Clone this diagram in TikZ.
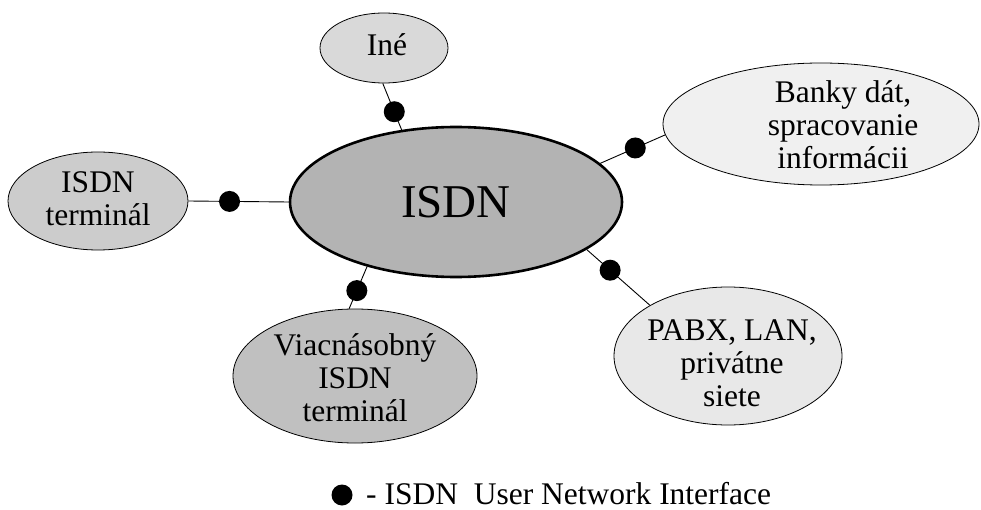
\documentclass[tikz,border=0pt]{standalone}
\usepackage{fontspec}
\setmainfont{Liberation Serif}
\usetikzlibrary{shapes.geometric}
\definecolor{cisdn}{RGB}{179,179,179}
\definecolor{cterm}{RGB}{204,204,204}
\definecolor{cviac}{RGB}{192,192,192}
\definecolor{cine}{RGB}{217,217,217}
\definecolor{cbanky}{RGB}{240,240,240}
\definecolor{cpabx}{RGB}{232,232,232}
\tikzset{
  ell/.style={ellipse, draw=black, line width=0.8pt, inner sep=0pt},
  lbl/.style={align=center, inner sep=0pt, font=\fontsize{31.5}{33}\selectfont},
  uni/.style={circle, fill=black, inner sep=0pt, minimum size=21pt},
  conn/.style={line width=0.9pt}
}
\begin{document}
\begin{tikzpicture}[x=1pt, y=-1pt]
\useasboundingbox (0,0) rectangle (981,510);
% ellipses
\node[ell, fill=cisdn, line width=2.6pt, minimum width=332pt, minimum height=150pt] (isdn) at (456,202) {};
\node[ell, fill=cine, minimum width=128pt, minimum height=70pt] (ine) at (384,48) {};
\node[ell, fill=cterm, minimum width=180pt, minimum height=98pt] (term) at (98,201) {};
\node[ell, fill=cviac, minimum width=244pt, minimum height=134pt] (viac) at (355,376) {};
\node[ell, fill=cbanky, minimum width=316pt, minimum height=122pt] (banky) at (821,124) {};
\node[ell, fill=cpabx, minimum width=228pt, minimum height=138pt] (pabx) at (728,356) {};
% texts
\node[lbl, font=\fontsize{47}{50}\selectfont] (tisdn) at (456,202) {ISDN};
\node[lbl] (tine) at (387,45) {Iné};
\node[lbl] (tterm) at (98,198.5) {ISDN\\terminál};
\node[lbl] (tviac) at (355,378) {Viacnásobný\\ISDN\\terminál};
\node[lbl] (tbanky) at (843,125) {Banky dát,\\spracovanie\\informácii};
\node[lbl] (tpabx) at (732,363) {PABX, LAN,\\privátne\\siete};
% connectors with interface dots
\draw[conn] (isdn.180) -- node[uni, pos=0.59] (d1) {} (term.0);
\draw[conn] (isdn.127.7) -- node[uni, pos=0.39] (d2) {} (ine.268);
\draw[conn] (isdn.15.2) -- node[uni, pos=0.54] (d3) {} (banky.184.2);
\draw[conn] (isdn.216.2) -- node[uni, pos=0.57] (d4) {} (viac.95.8);
\draw[conn] (isdn.-20.1) -- node[uni, pos=0.37] (d5) {} (pabx.147.9);
% legend
\node[uni] (ldot) at (342,495) {};
\node[anchor=base west, inner sep=0pt, font=\fontsize{31.5}{33}\selectfont] (ltext) at (366,504) {- ISDN\ \ User Network Interface};
\end{tikzpicture}
\end{document}
